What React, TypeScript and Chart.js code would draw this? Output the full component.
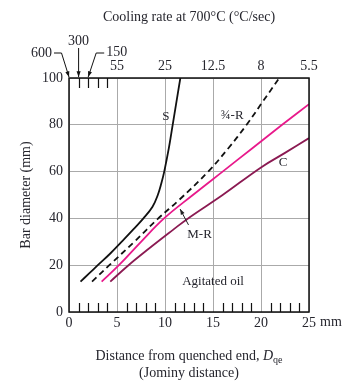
import React, { useEffect, useRef } from "react";
import { Chart, registerables } from "chart.js";
Chart.register(...registerables);

// Jominy distance (mm) vs bar diameter (mm), agitated oil
const sX = [1.2, 2.1, 3.0, 4.3, 5.6, 6.75, 7.75, 8.7, 9.25, 9.62, 9.92, 10.4, 10.8, 11.2, 11.6];
const sY = [13, 16.5, 20, 25, 30.5, 35.5, 40, 45, 50, 55, 60, 70, 80, 90, 100];
const qrX = [2.4, 4.2, 6.8, 9.3, 11.5, 14.5, 16.6, 18.5, 20.2, 21.9];
const qrY = [13, 20, 30, 40, 48, 60, 70, 80, 90, 100];
const mrX = [3.4, 5.2, 7.5, 9.9, 12.9, 16.0, 19.1, 22.2, 25];
const mrY = [13, 20, 30, 40, 50, 60, 70, 80, 88.8];
const cX = [4.3, 6.2, 8.3, 10.8, 12.4, 16.0, 20.0, 22.5, 25];
const cY = [13, 20, 27, 35, 40, 50, 61.8, 68, 74.3];

const bottomTicks = [0, 5, 10, 15, 20, 25];
const topTickPos = [5, 10, 15, 20, 25];
const topTickLabels = ["55", "25", "12.5", "8", "5.5"];
const yTicks = [0, 20, 40, 60, 80, 100];
const minorTop = [1, 2, 3, 4];
const minorBottom = [1, 2, 3, 4, 6, 7, 8, 9, 11, 12, 13, 14, 16, 17, 18, 19, 21, 22, 23, 24];

const FONT = "'Liberation Serif', 'DejaVu Serif', serif";
const TXT = "#26262e";
const PINK = "#e8198b";
const PLUM = "#8b1a52";

const pts = (xs: number[], ys: number[]) => xs.map((x, i) => ({ x, y: ys[i] }));

function arrowHead(ctx: CanvasRenderingContext2D, x1: number, y1: number, x2: number, y2: number, size = 6) {
  const ang = Math.atan2(y2 - y1, x2 - x1);
  ctx.beginPath();
  ctx.moveTo(x2, y2);
  ctx.lineTo(x2 - size * Math.cos(ang - 0.35), y2 - size * Math.sin(ang - 0.35));
  ctx.lineTo(x2 - size * Math.cos(ang + 0.35), y2 - size * Math.sin(ang + 0.35));
  ctx.closePath();
  ctx.fill();
}

const overlay = {
  id: "overlay",
  afterDraw(chart: any) {
    const { ctx, chartArea: a, scales } = chart;
    const xs = scales.x, ys = scales.y;
    ctx.save();
    ctx.strokeStyle = "#111";
    ctx.fillStyle = "#111";
    // frame
    ctx.lineWidth = 1.5;
    ctx.strokeRect(a.left, a.top, a.right - a.left, a.bottom - a.top);
    // minor ticks
    ctx.lineWidth = 1.2;
    ctx.beginPath();
    for (const v of minorBottom) {
      const px = Math.round(xs.getPixelForValue(v)) + 0.5;
      ctx.moveTo(px, a.bottom);
      ctx.lineTo(px, a.bottom - 9);
    }
    for (const v of minorTop) {
      const px = Math.round(xs.getPixelForValue(v)) + 0.5;
      ctx.moveTo(px, a.top);
      ctx.lineTo(px, a.top + 10);
    }
    ctx.stroke();

    // top arrows 600 / 300 / 150
    ctx.fillStyle = TXT;
    ctx.font = `14px ${FONT}`;
    ctx.textBaseline = "middle";
    const p0 = xs.getPixelForValue(0);
    const p1 = xs.getPixelForValue(1);
    const p2 = xs.getPixelForValue(2);
    ctx.textAlign = "right";
    ctx.fillText("600", p0 - 17, 53);
    ctx.textAlign = "center";
    ctx.fillText("300", p1, 41);
    ctx.textAlign = "left";
    ctx.fillText("150", p2 + 18, 52);
    ctx.lineWidth = 1;
    ctx.strokeStyle = "#111";
    ctx.fillStyle = "#111";
    ctx.beginPath();
    ctx.moveTo(p0 - 15, 53);
    ctx.lineTo(p0 - 7.5, 53);
    ctx.lineTo(p0, a.top - 1);
    ctx.stroke();
    arrowHead(ctx, p0 - 7.5, 53, p0, a.top - 1);
    ctx.beginPath();
    ctx.moveTo(p1, 48);
    ctx.lineTo(p1, a.top - 1);
    ctx.stroke();
    arrowHead(ctx, p1, 48, p1, a.top - 1);
    ctx.beginPath();
    ctx.moveTo(p2 + 16, 53);
    ctx.lineTo(p2 + 8, 53);
    ctx.lineTo(p2, a.top - 1);
    ctx.stroke();
    arrowHead(ctx, p2 + 8, 53, p2, a.top - 1);

    // curve labels
    ctx.fillStyle = TXT;
    ctx.textAlign = "center";
    ctx.font = `13px ${FONT}`;
    ctx.fillText("S", xs.getPixelForValue(10.1), ys.getPixelForValue(83.3));
    ctx.fillText("¾-R", xs.getPixelForValue(17.0), ys.getPixelForValue(83.8));
    ctx.fillText("C", xs.getPixelForValue(22.3), ys.getPixelForValue(63.8));
    ctx.fillText("M-R", xs.getPixelForValue(13.6), ys.getPixelForValue(32.9));
    ctx.fillText("Agitated oil", xs.getPixelForValue(15.0), ys.getPixelForValue(12.9));
    // M-R arrow
    const ax1 = xs.getPixelForValue(12.45), ay1 = ys.getPixelForValue(37.2);
    const ax2 = xs.getPixelForValue(11.57), ay2 = ys.getPixelForValue(44.0);
    ctx.strokeStyle = "#222";
    ctx.fillStyle = "#222";
    ctx.lineWidth = 1;
    ctx.beginPath();
    ctx.moveTo(ax1, ay1);
    ctx.lineTo(ax2, ay2);
    ctx.stroke();
    arrowHead(ctx, ax1, ay1, ax2, ay2, 6);

    // "mm" after 25
    ctx.fillStyle = TXT;
    ctx.font = `14px ${FONT}`;
    ctx.textAlign = "left";
    ctx.textBaseline = "middle";
    ctx.fillText("mm", xs.getPixelForValue(25) + 11, 322);

    // x-axis title with subscript
    const cx = (a.left + a.right) / 2;
    const main = "Distance from quenched end, ";
    ctx.font = `14px ${FONT}`;
    const w1 = ctx.measureText(main).width;
    ctx.font = `italic 14px ${FONT}`;
    const w2 = ctx.measureText("D").width;
    ctx.font = `10px ${FONT}`;
    const w3 = ctx.measureText("qe").width;
    let sx = cx - (w1 + w2 + w3) / 2;
    ctx.textAlign = "left";
    ctx.font = `14px ${FONT}`;
    ctx.fillText(main, sx, 356);
    sx += w1;
    ctx.font = `italic 14px ${FONT}`;
    ctx.fillText("D", sx, 356);
    sx += w2;
    ctx.font = `10px ${FONT}`;
    ctx.fillText("qe", sx, 360);
    ctx.font = `14px ${FONT}`;
    ctx.textAlign = "center";
    ctx.fillText("(Jominy distance)", cx, 373);
    ctx.restore();
  },
};

export default function App() {
  const ref = useRef<HTMLCanvasElement>(null);
  useEffect(() => {
    document.body.style.margin = "0";
    const line = (data: any, color: string, dash: number[] = []) => ({
      data,
      borderColor: color,
      borderWidth: 1.8,
      borderDash: dash,
      pointRadius: 0,
      fill: false,
      tension: 0.4,
      xAxisID: "x",
      yAxisID: "y",
    });
    const chart = new Chart(ref.current!, {
      type: "line",
      data: {
        datasets: [
          line(pts(sX, sY), "#111"),
          line(pts(qrX, qrY), "#111", [6, 4]),
          line(pts(mrX, mrY), PINK),
          line(pts(cX, cY), PLUM),
        ],
      },
      options: {
        responsive: false,
        animation: false,
        devicePixelRatio: 1,
        layout: { padding: { left: 0, right: 38, top: 0, bottom: 0 } },
        plugins: { legend: { display: false }, tooltip: { enabled: false } },
        scales: {
          x: {
            type: "linear",
            position: "bottom",
            min: 0,
            max: 25,
            afterBuildTicks: (s: any) => { s.ticks = bottomTicks.map((v) => ({ value: v })); },
            afterFit: (s: any) => { s.height = 69; },
            grid: { color: "#aaa", lineWidth: 1, drawTicks: false },
            border: { display: false },
            ticks: { color: TXT, font: { family: FONT, size: 14 }, padding: 3, maxRotation: 0 },
          },
          xTop: {
            type: "linear",
            position: "top",
            min: 0,
            max: 25,
            afterBuildTicks: (s: any) => { s.ticks = topTickPos.map((v) => ({ value: v })); },
            afterFit: (s: any) => { s.height = 78; },
            grid: { display: false, drawTicks: false },
            border: { display: false },
            ticks: {
              color: TXT,
              font: { family: FONT, size: 14 },
              padding: 3,
              maxRotation: 0,
              callback: (v: any) => topTickLabels[topTickPos.indexOf(Number(v))] ?? "",
            },
            title: {
              display: true,
              text: "Cooling rate at 700°C (°C/sec)",
              color: TXT,
              font: { family: FONT, size: 14 },
              padding: { top: 9, bottom: 0 },
            },
          },
          y: {
            type: "linear",
            position: "left",
            min: 0,
            max: 100,
            afterBuildTicks: (s: any) => { s.ticks = yTicks.map((v) => ({ value: v })); },
            afterFit: (s: any) => { s.width = 69; },
            grid: { color: "#aaa", lineWidth: 1, drawTicks: false },
            border: { display: false },
            ticks: { color: TXT, font: { family: FONT, size: 14 }, padding: 6 },
            title: {
              display: true,
              text: "Bar diameter (mm)",
              color: TXT,
              font: { family: FONT, size: 14 },
              padding: { top: 17.5, bottom: 0 },
            },
          },
        },
      },
      plugins: [overlay],
    } as any);
    return () => chart.destroy();
  }, []);
  return (
    <div style={{ width: 347, height: 381 }}>
      <canvas ref={ref} width={347} height={381} style={{ display: "block" }} />
    </div>
  );
}
